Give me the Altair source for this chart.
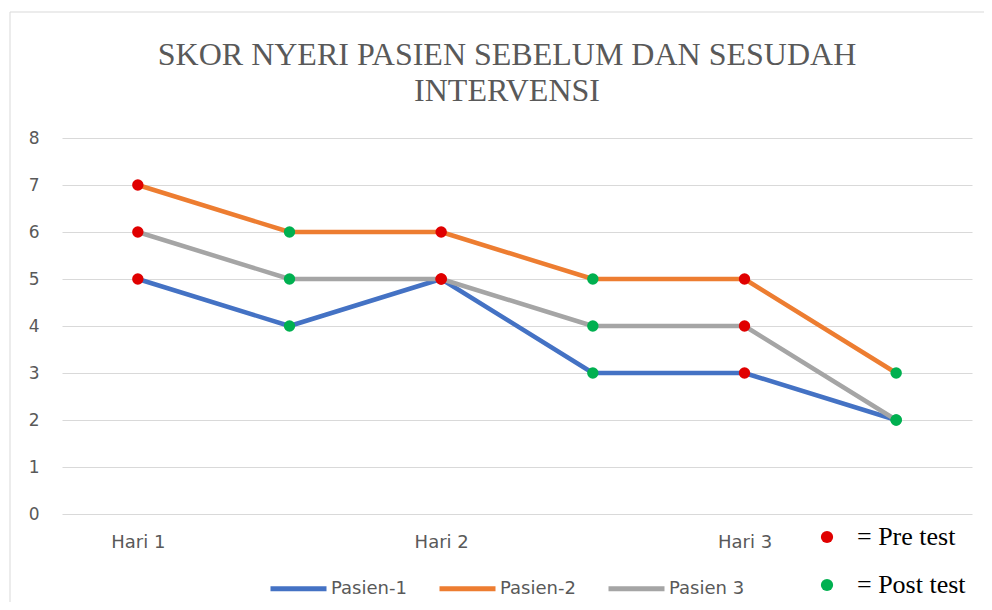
import altair as alt
import pandas as pd

judul = ["SKOR NYERI PASIEN SEBELUM DAN SESUDAH", "INTERVENSI"]
sesi = ["Hari 1 Pre", "Hari 1 Post", "Hari 2 Pre", "Hari 2 Post", "Hari 3 Pre", "Hari 3 Post"]
fase = ["Pre test", "Post test", "Pre test", "Post test", "Pre test", "Post test"]
pasien = ["Pasien-1", "Pasien-2", "Pasien 3"]
pasien1 = [5, 4, 5, 3, 3, 2]
pasien2 = [7, 6, 6, 5, 5, 3]
pasien3 = [6, 5, 5, 4, 4, 2]
warna = ["#4472C4", "#ED7D31", "#A5A5A5"]
fase_domain = ["Pre test", "Post test"]
fase_warna = ["#E00000", "#00B050"]

rows = []
for nama, nilai in zip(pasien, [pasien1, pasien2, pasien3]):
    for i, (s, f, v) in enumerate(zip(sesi, fase, nilai)):
        rows.append({"pasien": nama, "sesi": s, "fase": f, "skor": v, "urut": i})
df = pd.DataFrame(rows)

x_enc = alt.X(
    "sesi:N",
    sort=sesi,
    axis=alt.Axis(
        title=None, ticks=False, domain=False, grid=False, labelAngle=0,
        labelExpr="indexof(datum.label, 'Post') >= 0 ? '' : replace(datum.label, ' Pre', '')",
        labelFont="DejaVu Sans", labelFontSize=18, labelColor="#595959", labelPadding=19,
    ),
)
y_enc = alt.Y(
    "skor:Q",
    scale=alt.Scale(domain=[0, 8], nice=False),
    axis=alt.Axis(
        title=None, ticks=False, domain=False, values=list(range(9)),
        gridColor="#d9d9d9", gridWidth=1, labelFont="DejaVu Sans", labelFontSize=17,
        labelColor="#595959", labelPadding=23,
    ),
)

border = alt.Chart(pd.DataFrame({"a": [0]})).mark_rect(
    fill=None, stroke="#d9d9d9", strokeWidth=1
).encode(
    x=alt.value(-52), x2=alt.value(940), y=alt.value(-126), y2=alt.value(480)
)

title = alt.Chart(pd.DataFrame({"a": [0]})).mark_text(
    font="Liberation Serif", fontSize=32, color="#595959", align="center",
    baseline="alphabetic", lineHeight=36,
).encode(
    text=alt.value(judul), x=alt.value(445), y=alt.value(-73)
)

lines = alt.Chart(df).mark_line(strokeWidth=4.5, strokeJoin="round").encode(
    x=x_enc,
    y=y_enc,
    color=alt.Color(
        "pasien:N",
        scale=alt.Scale(domain=pasien, range=warna),
        legend=alt.Legend(
            orient="none", direction="horizontal", legendX=206, legendY=420, title=None,
            symbolType="stroke", symbolStrokeWidth=5, symbolSize=3136, labelOffset=2,
            columnPadding=22, labelFontSize=18, labelColor="#595959", labelFont="DejaVu Sans",
        ),
    ),
    order="urut:Q",
)

points = alt.Chart(df).mark_point(filled=True, size=130, opacity=1).encode(
    x=x_enc,
    y=y_enc,
    fill=alt.Fill(
        "fase:N",
        scale=alt.Scale(domain=fase_domain, range=fase_warna),
        legend=alt.Legend(
            orient="none", legendX=752, legendY=386, title=None, direction="vertical",
            labelExpr="'= ' + datum.label", labelFont="Liberation Serif", labelFontSize=26,
            labelColor="black", symbolSize=150, symbolType="circle", rowPadding=22,
            labelOffset=17, symbolStrokeWidth=0,
        ),
    ),
)

chart = alt.layer(border, title, lines, points).properties(
    width=910,
    height=376,
    autosize="none",
    padding={"left": 54, "top": 130, "right": 12, "bottom": 88},
).configure_view(stroke=None)

chart.save("out.html", embed_options={"renderer": "svg", "actions": False})
